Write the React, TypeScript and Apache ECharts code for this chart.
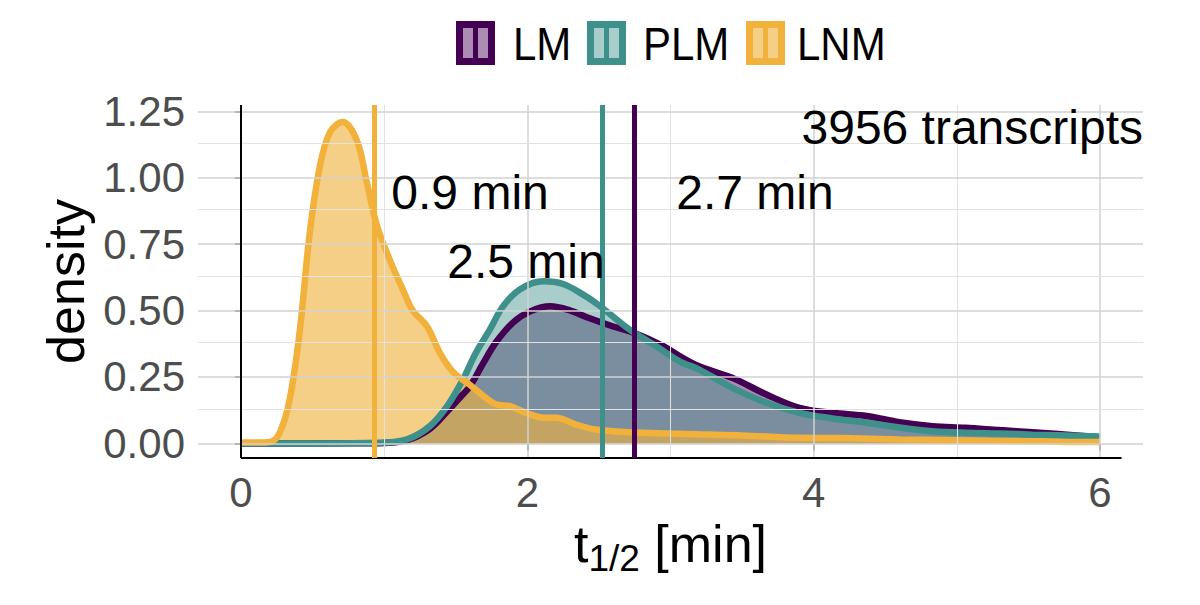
import React, { useEffect, useRef } from "react";
import * as echarts from "echarts";

// ---------- data ----------
const lmT = [0, 0.5, 0.97, 1.16, 1.32, 1.44, 1.55, 1.6, 1.69, 1.78, 1.9, 2.02, 2.16, 2.3, 2.44, 2.6, 2.74, 2.95, 3.06, 3.2, 3.43, 3.67, 3.9, 4.13, 4.37, 4.6, 4.83, 5.06, 5.3, 5.53, 5.88, 6.0];
const lmD = [0, 0, 0.001, 0.012, 0.055, 0.12, 0.185, 0.215, 0.3, 0.38, 0.455, 0.497, 0.516, 0.5, 0.47, 0.44, 0.417, 0.366, 0.33, 0.29, 0.247, 0.184, 0.134, 0.115, 0.103, 0.08, 0.065, 0.059, 0.05, 0.042, 0.028, 0.022];

const plmT = [0, 0.5, 0.97, 1.16, 1.32, 1.44, 1.55, 1.64, 1.74, 1.83, 1.95, 2.11, 2.25, 2.39, 2.5, 2.71, 2.9, 3.06, 3.2, 3.43, 3.67, 3.9, 4.13, 4.37, 4.6, 4.83, 5.06, 5.3, 5.53, 5.88, 6.0];
const plmD = [0, 0, 0.002, 0.015, 0.065, 0.14, 0.24, 0.34, 0.43, 0.516, 0.58, 0.61, 0.6, 0.56, 0.52, 0.43, 0.366, 0.31, 0.278, 0.21, 0.153, 0.115, 0.094, 0.078, 0.06, 0.046, 0.04, 0.037, 0.033, 0.028, 0.026];

const lnmT = [0, 0.1, 0.2, 0.27, 0.34, 0.41, 0.48, 0.55, 0.62, 0.71, 0.81, 0.88, 0.95, 1.04, 1.13, 1.2, 1.3, 1.39, 1.48, 1.6, 1.69, 1.78, 1.88, 1.99, 2.11, 2.2, 2.34, 2.48, 2.71, 3.0, 3.2, 3.5, 3.9, 4.2, 4.6, 5.0, 5.3, 5.6, 5.88, 6.0];
const lnmD = [0.003, 0.003, 0.005, 0.04, 0.165, 0.42, 0.79, 1.04, 1.17, 1.21, 1.14, 0.98, 0.82, 0.69, 0.58, 0.5, 0.44, 0.34, 0.27, 0.22, 0.18, 0.147, 0.14, 0.115, 0.097, 0.097, 0.071, 0.052, 0.042, 0.037, 0.034, 0.03, 0.021, 0.02, 0.015, 0.012, 0.009, 0.008, 0.005, 0.005];

const seriesNames = ["LM", "PLM", "LNM"];
const medians = [2.75, 2.52, 0.93];
const medianLabels = ["2.7 min", "2.5 min", "0.9 min"];
const medianLabelT = [3.59, 1.99, 1.6];
const medianLabelD = [0.944, 0.684, 0.944];
const countLabel = "3956 transcripts";

const xTicks = [0, 2, 4, 6];
const xMinorGrid = [1, 3, 5];
const yTicks = [0, 0.25, 0.5, 0.75, 1.0, 1.25];
const yMinorGrid = [0.125, 0.375, 0.625, 0.875, 1.125];

// ---------- styling ----------
const colors = ["#440154", "#3e918a", "#f1b13b"];
const fills = ["rgba(68,1,84,0.45)", "rgba(62,145,138,0.45)", "rgba(241,177,59,0.62)"];
const FONT = "'Liberation Sans', Arial, Helvetica, sans-serif";
const X_MIN = -0.3;
const X_MAX = 6.3;
const Y_MIN = -0.055;
const Y_MAX = 1.274;

const zip = (a: number[], b: number[]) => a.map((v, i) => [v, b[i]]);

export default function App() {
  const ref = useRef<HTMLDivElement>(null);

  useEffect(() => {
    if (!ref.current) return;
    const chart = echarts.init(ref.current, undefined, { renderer: "svg" });

    const curves = [zip(lmT, lmD), zip(plmT, plmD), zip(lnmT, lnmD)];

    const densitySeries = curves.map((data, i) => ({
      type: "line",
      name: seriesNames[i],
      data,
      showSymbol: false,
      smooth: 0.35,
      silent: true,
      z: 3,
      lineStyle: { color: colors[i], width: 6.5 },
      areaStyle: { color: fills[i], opacity: 1 },
    }));

    const gridSeries = {
      type: "line",
      data: [],
      silent: true,
      z: 1,
      markLine: {
        silent: true,
        symbol: ["none", "none"],
        label: { show: false },
        animation: false,
        data: [
          ...xTicks.map((v) => ({ xAxis: v, lineStyle: { color: "#d2d2d2", width: 1.5, type: "solid" } })),
          ...xMinorGrid.map((v) => ({ xAxis: v, lineStyle: { color: "#e2e2e2", width: 1, type: "solid" } })),
          ...yTicks.map((v) => ({ yAxis: v, lineStyle: { color: "#d2d2d2", width: 1.5, type: "solid" } })),
          ...yMinorGrid.map((v) => ({ yAxis: v, lineStyle: { color: "#e2e2e2", width: 1, type: "solid" } })),
        ],
      },
    };

    const overlaySeries = {
      type: "line",
      data: [],
      silent: true,
      z: 5,
      markLine: {
        silent: true,
        symbol: ["none", "none"],
        label: { show: false },
        animation: false,
        data: [
          { xAxis: 0, lineStyle: { color: "#000", width: 2, type: "solid" } },
          [
            { coord: [0, Y_MIN], lineStyle: { color: "#000", width: 2, type: "solid" } },
            { coord: [6.15, Y_MIN] },
          ],
          ...medians.map((m, i) => ({ xAxis: m, lineStyle: { color: colors[i], width: 5, type: "solid" } })),
        ],
      },
    };

    const textSeries = {
      type: "scatter",
      silent: true,
      z: 6,
      symbolSize: 0,
      itemStyle: { opacity: 1 },
      data: [
        ...medianLabels.map((t, i) => ({
          value: [medianLabelT[i], medianLabelD[i]],
          name: t,
          label: { align: "center" },
        })),
        { value: [X_MAX, 1.19], name: countLabel, label: { align: "right" } },
      ],
      label: {
        show: true,
        position: "inside",
        formatter: (p: any) => p.name,
        fontSize: 48,
        fontFamily: FONT,
        color: "#000",
        opacity: 1,
        textBorderWidth: 0,
        textBorderColor: "transparent",
        verticalAlign: "middle",
      },
    };

    const legendX = [456, 587, 746];
    const legendTextX = [513, 643, 797];
    const graphic = seriesNames.map((n, i) => ({
      type: "group",
      children: [
        {
          type: "rect",
          shape: { x: legendX[i] + 3.5, y: 24.5, width: 32, height: 37 },
          style: { fill: fills[i], stroke: colors[i], lineWidth: 7 },
        },
        {
          type: "line",
          shape: { x1: legendX[i] + 19.5, y1: 21, x2: legendX[i] + 19.5, y2: 65 },
          style: { stroke: colors[i], lineWidth: 5 },
        },
        {
          type: "text",
          x: legendTextX[i],
          y: 44,
          scaleY: 1.1,
          style: { text: n, fontSize: 42, fontFamily: FONT, fill: "#000", verticalAlign: "middle", align: "left" },
        },
      ],
    }));

    chart.setOption({
      animation: false,
      backgroundColor: "#ffffff",
      grid: { left: 198, right: 57, top: 105, bottom: 147 },
      xAxis: {
        type: "value",
        min: X_MIN,
        max: X_MAX,
        splitLine: { show: false },
        axisLine: { show: false },
        axisTick: { show: true, customValues: xTicks, length: 7, lineStyle: { color: "#333", width: 1.5 } },
        axisLabel: { customValues: xTicks, fontSize: 42, fontFamily: FONT, color: "#4d4d4d", margin: 13 },
        name: "{t|t}{s|1/2}{t| [min]}",
        nameLocation: "middle",
        nameGap: 52,
        nameTextStyle: {
          fontFamily: FONT,
          color: "#000",
          rich: {
            t: { fontSize: 52, fontFamily: FONT, color: "#000" },
            s: { fontSize: 37, fontFamily: FONT, color: "#000", padding: [30, 0, 0, 0] },
          },
        },
      },
      yAxis: {
        type: "value",
        min: Y_MIN,
        max: Y_MAX,
        splitLine: { show: false },
        axisLine: { show: false },
        axisTick: { show: true, customValues: yTicks, length: 6, lineStyle: { color: "#333", width: 1.5 } },
        axisLabel: {
          customValues: yTicks,
          fontSize: 42,
          fontFamily: FONT,
          color: "#4d4d4d",
          margin: 13,
          formatter: (v: number) => v.toFixed(2),
        },
        name: "density",
        nameLocation: "middle",
        nameRotate: 90,
        nameGap: 104,
        nameTextStyle: { fontSize: 52, fontFamily: FONT, color: "#000" },
      },
      series: [gridSeries, ...densitySeries, overlaySeries, textSeries],
      graphic,
    });

    return () => chart.dispose();
  }, []);

  return <div ref={ref} style={{ width: 1200, height: 605, position: "absolute", left: 0, top: 0 }} />;
}
